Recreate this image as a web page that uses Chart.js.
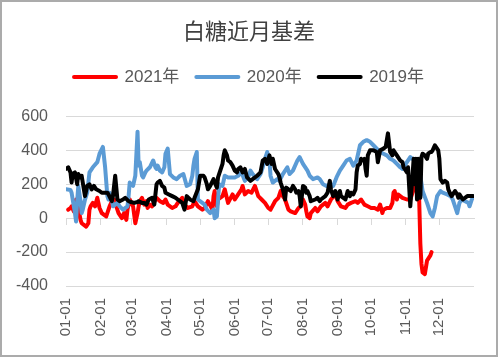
<!DOCTYPE html>
<html>
<head>
<meta charset="utf-8">
<script src="https://cdn.jsdelivr.net/npm/chart.js@4.4.1/dist/chart.umd.min.js"></script>
<style>
  html, body { margin: 0; padding: 0; background: #fff; }
  #wrap { width: 498px; height: 357px; box-sizing: border-box; border: 2px solid #ababab; background: #fff; }
  canvas { display: block; }
</style>
</head>
<body>
<div id="wrap"><canvas id="c" width="494" height="353"></canvas></div>
<script>
// ---- data (day of year, basis value) ----
const chartTitle = '白糖近月基差';
const seriesNames = ['2021年', '2020年', '2019年'];
const monthDays = [0, 31, 59, 90, 120, 151, 181, 212, 243, 273, 304, 334];
const monthLabels = ['01-01','02-01','03-01','04-01','05-01','06-01','07-01','08-01','09-01','10-01','11-01','12-01'];
const yTicks = [-400, -200, 0, 200, 400, 600];

const days2021 = [2,4,5,7,9,11,13,14,16,18,20,21,22,24,26,28,30,32,36,38,39,41,43,45,47,50,52,54,55,57,60,62,64,65,66,68,70,72,73,75,77,80,81,84,87,89,91,95,98,100,104,106,109,113,115,118,122,124,127,131,132,133,135,136,140,142,145,149,151,154,157,158,160,163,166,169,172,175,178,181,183,187,190,192,194,196,199,201,205,208,210,212,214,215,216,218,219,223,225,228,232,234,237,241,243,246,250,252,255,259,261,264,267,270,273,276,279,281,283,284,287,290,292,293,294,296,297,299,301,305,308,310,313,315,316,317,318,319,321,323,324,326,327];
const vals2021 = [50,60,70,40,110,60,-10,-30,-40,-50,-30,50,70,90,70,120,60,30,10,50,70,100,110,70,30,0,30,-10,50,110,70,-30,30,70,100,120,80,100,60,80,70,110,120,100,90,110,80,60,70,90,120,80,60,70,100,70,50,60,100,50,130,160,70,110,130,170,90,140,110,140,170,190,140,160,150,190,130,110,90,60,50,100,120,160,130,110,50,40,30,60,70,110,80,40,10,0,30,60,40,70,90,70,110,140,100,70,60,80,90,100,90,110,80,70,60,60,50,80,30,50,60,60,90,150,160,110,140,130,120,110,110,150,200,230,100,-150,-270,-320,-330,-250,-240,-220,-200];

const days2020 = [0,4,5,6,8,9,10,11,13,14,15,17,19,20,21,24,28,30,33,35,37,38,39,41,42,46,48,51,55,56,57,60,62,64,65,66,68,69,71,72,75,78,80,81,82,84,86,88,89,91,93,96,99,102,105,108,111,113,114,115,117,118,122,124,126,129,132,133,135,137,140,142,145,149,151,154,157,160,163,165,167,171,174,176,178,180,182,183,185,189,191,194,198,200,203,207,209,212,216,218,221,225,227,230,233,236,239,242,245,248,251,254,257,260,263,266,269,272,275,278,281,284,287,290,293,296,299,301,305,308,310,314,317,319,323,326,328,330,332,335,337,341,344,346,348,350,352,354,357,360,361,363,365];
const vals2020 = [170,166,150,110,30,-20,100,190,100,30,50,110,150,210,270,300,330,380,420,300,130,110,150,110,70,90,70,50,70,130,210,190,250,510,310,330,250,240,270,280,300,340,300,290,310,280,270,300,380,410,260,240,230,250,260,190,200,250,310,350,390,110,90,80,50,30,50,0,10,200,190,250,240,240,240,250,270,220,240,280,260,230,260,300,350,390,340,250,210,230,220,260,300,260,280,340,360,320,280,250,230,240,230,200,190,200,190,240,280,310,340,350,310,340,430,450,460,450,430,410,390,380,370,350,340,320,300,290,330,360,350,320,250,160,90,30,10,60,130,160,150,140,130,110,70,30,90,110,100,90,70,110,130];

const days2019 = [0,2,4,5,6,8,10,11,13,14,16,17,19,21,23,25,27,30,32,34,37,38,41,42,44,46,48,51,53,56,58,61,64,65,68,70,72,74,77,79,81,82,84,86,88,89,92,95,98,100,104,106,108,111,114,115,118,120,123,124,126,127,129,132,133,135,136,138,140,141,142,144,145,147,149,151,153,154,156,158,160,162,165,167,171,174,176,178,180,182,184,185,187,190,191,192,194,196,197,199,201,203,205,206,208,209,210,212,214,215,216,218,219,223,225,227,228,232,234,236,237,239,241,242,243,245,246,250,252,254,255,257,259,260,261,263,264,266,267,268,269,270,272,275,278,279,281,284,286,288,290,292,293,294,296,297,299,301,302,303,305,306,308,310,311,312,313,314,315,317,318,319,321,323,324,326,327,328,330,332,333,334,335,336,337,339,341,342,344,345,346,348,350,351,352,354,355,359,361,364];
const vals2019 = [290,300,270,210,260,270,200,260,240,250,170,130,190,200,170,190,170,160,150,150,150,140,100,130,250,110,100,110,120,100,95,90,95,100,90,90,80,110,120,80,200,210,220,190,180,150,140,130,120,110,90,50,130,110,100,120,170,250,250,240,200,170,190,230,210,180,240,280,320,370,400,370,340,330,310,280,270,290,300,270,290,240,220,230,250,270,340,350,320,370,320,350,290,260,240,210,170,110,180,170,160,190,170,150,160,130,70,190,180,150,160,130,100,110,120,100,110,130,150,220,170,130,160,140,110,160,130,110,160,130,150,140,170,270,310,320,350,340,350,290,250,370,400,400,390,330,400,410,420,500,390,370,400,390,370,360,340,330,300,290,270,300,70,250,350,200,350,110,350,120,360,380,370,350,380,390,390,400,430,410,400,350,230,220,210,220,210,170,140,130,140,160,140,120,140,120,110,130,130,130];

const colors = ['#ff0000', '#5b9bd5', '#000000'];

function toPoints(days, vals) { return days.map((d, i) => ({ x: d, y: vals[i] })); }

const seriesData = [toPoints(days2021, vals2021), toPoints(days2020, vals2020), toPoints(days2019, vals2019)];

const numFont = "'Liberation Sans', 'Noto Sans CJK SC', sans-serif";

const monthTicks = (scale) => { scale.ticks = monthDays.map(v => ({ value: v })); };

// extra space below the legend, as in the reference layout
const legendGap = {
  id: 'legendGap',
  afterInit(chart) {
    const lg = chart.legend;
    if (!lg) return;
    const origFit = lg.fit;
    lg.fit = function () { origFit.call(this); this.height += 21; };
  }
};

new Chart(document.getElementById('c'), {
  type: 'line',
  data: {
    datasets: seriesData.map((pts, i) => ({
      label: seriesNames[i],
      data: pts,
      borderColor: colors[i],
      backgroundColor: colors[i],
      borderWidth: 4,
      pointRadius: 0,
      tension: 0,
      borderCapStyle: 'round',
      borderJoinStyle: 'round',
      order: 3 - i
    }))
  },
  plugins: [legendGap],
  options: {
    responsive: false,
    devicePixelRatio: 1,
    animation: false,
    layout: { padding: 0 },
    plugins: {
      title: {
        display: true,
        text: chartTitle,
        color: '#404040',
        font: { family: "'Noto Sans CJK SC', sans-serif", size: 22, weight: 'normal', lineHeight: 1.2 },
        padding: { top: 15, bottom: 8 }
      },
      legend: {
        display: true,
        labels: {
          color: '#595959',
          font: { family: numFont, size: 17 },
          boxWidth: 42,
          boxHeight: 0,
          padding: 17,
          sort: (a, b) => a.datasetIndex - b.datasetIndex
        }
      },
      tooltip: { enabled: false }
    },
    scales: {
      x: {
        type: 'linear',
        position: 'bottom',
        min: 0,
        max: 365,
        afterBuildTicks: monthTicks,
        afterFit: (s) => { s.height = 69; },
        grid: { display: false, drawTicks: false },
        border: { display: false },
        ticks: {
          autoSkip: false,
          maxRotation: 90,
          minRotation: 90,
          padding: 12,
          color: '#595959',
          font: { family: numFont, size: 15 },
          callback: (v) => monthLabels[monthDays.indexOf(v)]
        }
      },
      x2: {
        type: 'linear',
        position: { y: 0 },
        min: 0,
        max: 365,
        afterBuildTicks: monthTicks,
        grid: { drawOnChartArea: false, drawTicks: true, tickLength: 6, color: '#d9d9d9' },
        border: { display: true, color: '#d9d9d9' },
        ticks: { display: false }
      },
      y: {
        min: -400,
        max: 600,
        afterBuildTicks: (s) => { s.ticks = yTicks.map(v => ({ value: v })); },
        afterFit: (s) => { s.width = 64; },
        grid: { color: '#d9d9d9', drawTicks: false },
        border: { display: false },
        ticks: {
          padding: 18,
          color: '#595959',
          font: { family: numFont, size: 16 }
        }
      },
      yRightSpace: {
        position: 'right',
        min: -400,
        max: 600,
        afterFit: (s) => { s.width = 22; },
        grid: { display: false, drawTicks: false },
        border: { display: false },
        ticks: { display: false }
      }
    }
  }
});
</script>
</body>
</html>
